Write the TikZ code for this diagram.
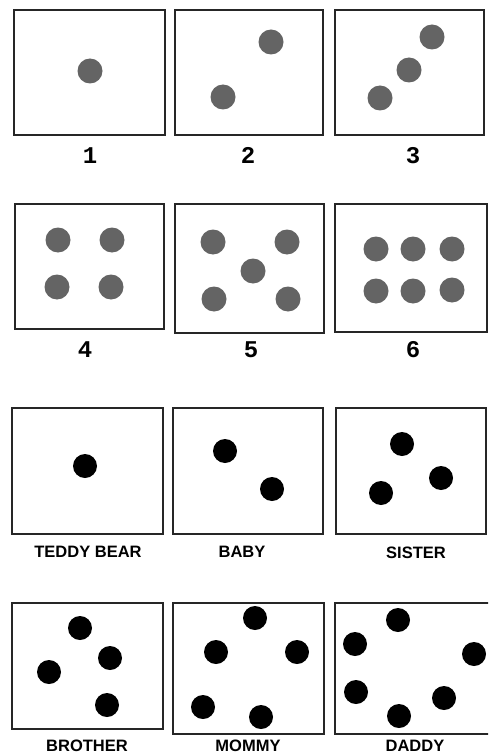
\documentclass[tikz,border=0pt]{standalone}
\usepackage{fontspec}
\usepackage{tikz}
\newfontfamily\digitfont{Liberation Mono}
\newfontfamily\wordfont{Liberation Sans}
\usetikzlibrary{positioning}

\definecolor{dotgray}{RGB}{100,100,100}

\begin{document}
\begin{tikzpicture}[x=1pt, y=-1pt]
  \tikzset{
    panel/.style={
      draw=black!85,
      line width=1.6pt},
    gdot/.style={
      circle,
      fill=dotgray,
      inner sep=0pt,
      minimum size=25pt},
    bdot/.style={
      circle,
      fill=black,
      inner sep=0pt,
      minimum size=24pt},
    numlab/.style={
      anchor=base,
      inner sep=0pt,
      font=\digitfont\bfseries\fontsize{24}{24}\selectfont},
    wordlab/.style={
      anchor=base,
      inner sep=0pt,
      font=\wordfont\bfseries\fontsize{16.5}{16.5}\selectfont}}

  \clip (0,0) rectangle (488,754);
  \fill[white] (0,0) rectangle (488,754);

  % numbers, first row
  \draw[panel] (14,10) rectangle (165,135);
  \draw[panel] (175,10) rectangle (323,135);
  \draw[panel] (335,10) rectangle (484,135);
  \node[gdot] (a1) at (90,71) {};
  \node[gdot] (b1) at (223,97) {};
  \node[gdot] (b2) at (271,42) {};
  \node[gdot] (c1) at (380,98) {};
  \node[gdot] (c2) at (409,70) {};
  \node[gdot] (c3) at (432,37) {};
  \node[numlab] (one) at (90,164) {1};
  \node[numlab] (two) at (248,164) {2};
  \node[numlab] (three) at (413,164) {3};

  % numbers, second row
  \draw[panel] (15,204) rectangle (164,329);
  \draw[panel] (175,204) rectangle (324,333);
  \draw[panel] (335,204) rectangle (487,332);
  \node[gdot] (d1) at (58,240) {};
  \node[gdot] (d2) at (112,240) {};
  \node[gdot] (d3) at (57,287) {};
  \node[gdot] (d4) at (111,287) {};
  \node[gdot] (e1) at (213,242) {};
  \node[gdot] (e2) at (287,242) {};
  \node[gdot] (e3) at (253,271) {};
  \node[gdot] (e4) at (214,299) {};
  \node[gdot] (e5) at (288,299) {};
  \node[gdot] (f1) at (376,249) {};
  \node[gdot] (f2) at (413,249) {};
  \node[gdot] (f3) at (452,249) {};
  \node[gdot] (f4) at (376,291) {};
  \node[gdot] (f5) at (413,291) {};
  \node[gdot] (f6) at (452,290) {};
  \node[numlab] (four) at (85,357) {4};
  \node[numlab] (five) at (251,357) {5};
  \node[numlab] (six) at (413,357) {6};

  % family, first row
  \draw[panel] (12,408) rectangle (163,534);
  \draw[panel] (173,408) rectangle (323,534);
  \draw[panel] (336,408) rectangle (486,534);
  \node[bdot] (g1) at (85,466) {};
  \node[bdot] (h1) at (225,451) {};
  \node[bdot] (h2) at (272,489) {};
  \node[bdot] (i1) at (402,444) {};
  \node[bdot] (i2) at (441,478) {};
  \node[bdot] (i3) at (381,493) {};
  \node[wordlab] (teddy) at (88,557) {TEDDY BEAR};
  \node[wordlab] (baby) at (242,557) {BABY};
  \node[wordlab] (sister) at (416,558) {SISTER};

  % family, second row
  \draw[panel] (12,603) rectangle (163,729);
  \draw[panel] (173,603) rectangle (324,734);
  \draw[panel] (335,603) rectangle (495,734);
  \node[bdot] (j1) at (80,628) {};
  \node[bdot] (j2) at (110,658) {};
  \node[bdot] (j3) at (49,672) {};
  \node[bdot] (j4) at (107,705) {};
  \node[bdot] (k1) at (255,618) {};
  \node[bdot] (k2) at (216,652) {};
  \node[bdot] (k3) at (297,652) {};
  \node[bdot] (k4) at (203,707) {};
  \node[bdot] (k5) at (261,717) {};
  \node[bdot] (l1) at (398,620) {};
  \node[bdot] (l2) at (355,644) {};
  \node[bdot] (l3) at (474,654) {};
  \node[bdot] (l4) at (356,692) {};
  \node[bdot] (l5) at (444,698) {};
  \node[bdot] (l6) at (399,716) {};
  \node[wordlab] (brother) at (87,751.5) {BROTHER};
  \node[wordlab] (mommy) at (248,751.5) {MOMMY};
  \node[wordlab] (daddy) at (415,751.5) {DADDY};

\end{tikzpicture}
\end{document}
